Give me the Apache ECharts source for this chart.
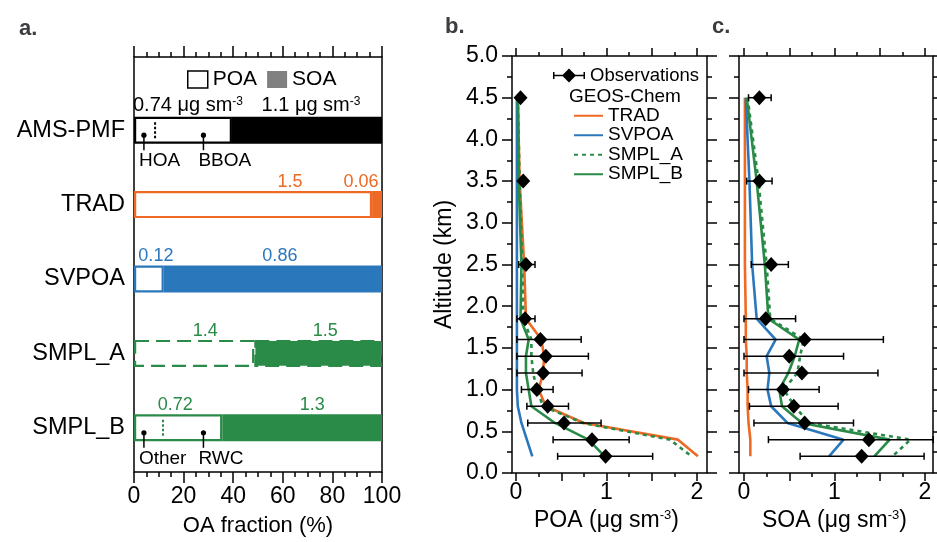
<!DOCTYPE html>
<html>
<head>
<meta charset="utf-8">
<script src="https://cdn.jsdelivr.net/npm/echarts@6/dist/echarts.min.js"></script>
<style>
  html, body { margin: 0; padding: 0; background: #fff; }
  #chart { width: 937px; height: 542px; }
</style>
</head>
<body>
<div id="chart"></div>
<script>
const fontFamily = 'Liberation Sans, Arial, Helvetica, sans-serif'
const orange = '#ee6a24'
const blue = '#2b77bc'
const green = '#2a8a47'

// ---- panel a: OA fraction per run
const runs = ['AMS-PMF', 'TRAD', 'SVPOA', 'SMPL_A', 'SMPL_B']
const poaPct = [39.5, 96, 12, 48.5, 35.6]
const soaPct = [60.5, 4, 88, 51.5, 64.4]
const poaMass = ['0.74', '1.5', '0.12', '1.4', '0.72']
const soaMass = ['1.1', '0.06', '0.86', '1.5', '1.3']
// dotted split lines and source markers inside the POA part
const splitPct = [8.5, 11.7]
const splitRuns = ['AMS-PMF', 'SMPL_B']
const markPct = [4, 28, 4, 28]
const markRuns = ['AMS-PMF', 'AMS-PMF', 'SMPL_B', 'SMPL_B']
const markNames = ['HOA', 'BBOA', 'Other', 'RWC']

// ---- panels b, c: vertical profiles
const altKm = [4.5, 3.5, 2.5, 1.85, 1.6, 1.4, 1.2, 1.0, 0.8, 0.6, 0.4, 0.2]
const modelNames = ['TRAD', 'SVPOA', 'SMPL_A', 'SMPL_B']

const poaObs = [0.05, 0.08, 0.11, 0.10, 0.27, 0.33, 0.30, 0.23, 0.35, 0.53, 0.84, 0.99]
const poaObsLo = [0.045, 0.06, 0.03, 0.01, 0.01, 0.01, 0.01, 0.06, 0.12, 0.13, 0.41, 0.46]
const poaObsHi = [0.055, 0.10, 0.21, 0.21, 0.72, 0.80, 0.73, 0.41, 0.58, 0.94, 1.25, 1.51]
const poaTrad = [0.02, 0.04, 0.09, 0.11, 0.28, 0.31, 0.30, 0.25, 0.33, 0.75, 1.79, 2.01]
const poaSvpoa = [0.01, 0.01, 0.01, 0.01, 0.01, 0.01, 0.01, 0.01, 0.02, 0.06, 0.12, 0.18]
const poaSmplA = [0.02, 0.04, 0.07, 0.08, 0.17, 0.17, 0.19, 0.23, 0.30, 0.74, 1.70, 1.94]
const poaSmplB = [0.02, 0.03, 0.06, 0.05, 0.14, 0.11, 0.11, 0.14, 0.17, 0.43, 0.80, 0.98]

const soaObs = [0.17, 0.17, 0.30, 0.24, 0.67, 0.50, 0.64, 0.43, 0.55, 0.67, 1.38, 1.30]
const soaObsLo = [0.05, 0.03, 0.08, 0.00, 0.00, 0.00, 0.00, 0.05, 0.06, 0.11, 0.27, 0.62]
const soaObsHi = [0.30, 0.31, 0.49, 0.57, 1.54, 1.10, 1.48, 0.83, 1.04, 1.21, 2.09, 1.99]
const soaTrad = [0.01, 0.01, 0.01, 0.02, 0.02, 0.03, 0.03, 0.04, 0.04, 0.05, 0.07, 0.07]
const soaSvpoa = [0.02, 0.06, 0.09, 0.14, 0.35, 0.25, 0.28, 0.26, 0.30, 0.48, 1.10, 0.94]
const soaSmplA = [0.04, 0.16, 0.25, 0.29, 0.66, 0.62, 0.59, 0.44, 0.56, 0.72, 1.84, 1.64]
const soaSmplB = [0.03, 0.14, 0.23, 0.27, 0.61, 0.56, 0.49, 0.39, 0.42, 0.64, 1.61, 1.44]

const runColors = ['#000000', orange, blue, green, green]
const modelLine = [
    { color: orange, type: 'solid' },
    { color: blue, type: 'solid' },
    { color: green, type: [4, 4] },
    { color: green, type: 'solid' },
]

const black = { color: '#000', width: 1.5 }

const tickAxis = (o) => Object.assign({
    type: 'value',
    axisLine: { show: false },
    splitLine: { show: false },
    axisTick: { show: true, length: 8, lineStyle: black },
    minorTick: { show: true, splitNumber: 2, length: 4, lineStyle: black },
    axisLabel: { show: false },
}, o)

const hiddenAxis = (o) => Object.assign({ type: 'value', show: false }, o)

const sup = { s: { fontSize: 13, verticalAlign: 'top', fontFamily: fontFamily } }

// observations: error bars drawn through the axes
const errorSeries = (lo, hi, xIdx, yIdx) => ({
    type: 'custom',
    name: 'obsErr' + xIdx,
    xAxisIndex: xIdx,
    yAxisIndex: yIdx,
    clip: false,
    z: 8,
    data: altKm.map((a, i) => [lo[i], hi[i], a]),
    encode: { x: [0, 1], y: 2 },
    renderItem: (params, api) => {
        const y = api.value(2)
        const p1 = api.coord([api.value(0), y])
        const p2 = api.coord([api.value(1), y])
        const st = { stroke: '#000', lineWidth: 1.5 }
        return {
            type: 'group',
            children: [
                { type: 'line', shape: { x1: p1[0], y1: p1[1], x2: p2[0], y2: p2[1] }, style: st },
                { type: 'line', shape: { x1: p1[0], y1: p1[1] - 3.5, x2: p1[0], y2: p1[1] + 3.5 }, style: st },
                { type: 'line', shape: { x1: p2[0], y1: p2[1] - 3.5, x2: p2[0], y2: p2[1] + 3.5 }, style: st },
            ]
        }
    }
})

const profileSeries = (models, obs, lo, hi, xIdx, yIdx) => {
    const lines = models.map((vals, k) => ({
        type: 'line',
        name: modelNames[k],
        xAxisIndex: xIdx,
        yAxisIndex: yIdx,
        symbol: 'none',
        clip: false,
        z: 3 + k * 0.1,
        lineStyle: { width: 2.6, color: modelLine[k].color, type: modelLine[k].type },
        itemStyle: { color: modelLine[k].color },
        data: altKm.map((a, i) => [vals[i], a])
    }))
    return lines.concat([
        errorSeries(lo, hi, xIdx, yIdx),
        {
            type: 'scatter',
            name: 'Observations',
            xAxisIndex: xIdx,
            yAxisIndex: yIdx,
            symbol: 'diamond',
            symbolSize: [14, 15],
            clip: false,
            z: 9,
            itemStyle: { color: '#000', opacity: 1 },
            data: altKm.map((a, i) => [obs[i], a])
        }
    ])
}

// horizontal shifts of the mass labels relative to each bar part
const poaShift = [5, 37, 7, 11, -3]
const soaShift = [4, -16, 7, 7, 10]

const barLabel = (i, mass, shift) => ({
    show: true,
    position: 'top',
    distance: i === 0 ? 1 : 0,
    offset: [shift, 0],
    color: runColors[i],
    fontSize: i === 0 ? 20 : 18,
    fontFamily: fontFamily,
    formatter: i === 0 ? mass + ' \u03bcg sm{s|-3}' : mass,
    rich: { s: { fontSize: 12, verticalAlign: 'top', fontFamily: fontFamily, color: runColors[i] } }
})

const chartInstance = echarts.init(document.getElementById('chart'), null, { renderer: 'canvas' })

const option = {
    animation: false,
    backgroundColor: '#fff',
    textStyle: { fontFamily: fontFamily, color: '#000' },
    title: [
        { text: 'a.', left: 14, top: 13, textStyle: { fontSize: 22, fontWeight: 'bold', fontFamily: fontFamily } },
        { text: 'b.', left: 440, top: 11, textStyle: { fontSize: 22, fontWeight: 'bold', fontFamily: fontFamily } },
        { text: 'c.', left: 707, top: 11, textStyle: { fontSize: 22, fontWeight: 'bold', fontFamily: fontFamily } },
    ],
    grid: [
        { left: 134, top: 57, width: 248, height: 415, show: true, borderColor: '#000', borderWidth: 1.5 },
        { left: 134, top: 93, width: 248, height: 372 },
        { left: 512, top: 56, width: 195, height: 417, show: true, borderColor: '#000', borderWidth: 1.5 },
        { left: 516, top: 56, width: 181, height: 417 },
        { left: 739, top: 56, width: 194, height: 417, show: true, borderColor: '#000', borderWidth: 1.5 },
        { left: 744, top: 56, width: 181, height: 417 },
    ],
    legend: [
        {
            left: 182, top: 64, itemWidth: 20, itemHeight: 17, itemGap: 10, selectedMode: false,
            textStyle: { fontSize: 21, fontFamily: fontFamily, color: '#000' },
            data: [
                { name: 'POA', icon: 'rect', itemStyle: { color: '#fff', borderColor: '#000', borderWidth: 1.5 } },
                { name: 'SOA', icon: 'rect', itemStyle: { color: '#808080', borderWidth: 0 } },
            ]
        },
        {
            left: 548, top: 61, itemWidth: 32, itemHeight: 14, selectedMode: false,
            textStyle: { fontSize: 18.5, fontFamily: fontFamily, color: '#000' },
            data: [{
                name: 'Observations',
                icon: 'path://M0,3.5L1.5,3.5L1.5,10.5L0,10.5Z M1.5,6.25L30.5,6.25L30.5,7.75L1.5,7.75Z M30.5,3.5L32,3.5L32,10.5L30.5,10.5Z M16,0L23,7L16,14L9,7Z'
            }]
        },
        {
            left: 568, top: 101, orient: 'vertical', itemWidth: 29, itemHeight: 10, itemGap: 0, selectedMode: false,
            itemStyle: { opacity: 0 },
            textStyle: { fontSize: 19, fontFamily: fontFamily, color: '#000', lineHeight: 19.5 },
            data: modelNames
        },
    ],
    graphic: [
        { type: 'text', left: 569, top: 87, style: { text: 'GEOS-Chem', fontSize: 19, fontFamily: fontFamily, fill: '#000' } }
    ],
    xAxis: [
        tickAxis({
            gridIndex: 0, position: 'bottom', min: 0, max: 100, interval: 20,
            axisTick: { show: true, length: 11, lineStyle: black },
            minorTick: { show: true, splitNumber: 4, length: 5, lineStyle: black },
            axisLabel: { show: true, fontSize: 23, margin: 13, color: '#000', fontFamily: fontFamily },
            name: 'OA fraction (%)', nameLocation: 'middle', nameGap: 43,
            nameTextStyle: { fontSize: 22, color: '#000', fontFamily: fontFamily }
        }),
        tickAxis({
            gridIndex: 0, position: 'top', min: 0, max: 100, interval: 20,
            axisTick: { show: true, length: 11, lineStyle: black },
            minorTick: { show: true, splitNumber: 4, length: 5, lineStyle: black }
        }),
        hiddenAxis({ gridIndex: 1, min: 0, max: 100 }),
        hiddenAxis({ gridIndex: 2, min: 0, max: 1 }),
        tickAxis({
            gridIndex: 3, position: 'bottom', min: 0, max: 2, interval: 0.5,
            axisLabel: {
                show: true, fontSize: 23, margin: 8, color: '#000', fontFamily: fontFamily,
                formatter: (v) => (Math.abs(v - Math.round(v)) < 1e-6 ? String(Math.round(v)) : '')
            },
            name: 'POA (\u03bcg sm{s|-3})', nameLocation: 'middle', nameGap: 35,
            nameTextStyle: { fontSize: 23, color: '#000', fontFamily: fontFamily, rich: sup }
        }),
        tickAxis({ gridIndex: 3, position: 'top', min: 0, max: 2, interval: 0.5 }),
        hiddenAxis({ gridIndex: 4, min: 0, max: 1 }),
        tickAxis({
            gridIndex: 5, position: 'bottom', min: 0, max: 2, interval: 0.5,
            axisLabel: {
                show: true, fontSize: 23, margin: 8, color: '#000', fontFamily: fontFamily,
                formatter: (v) => (Math.abs(v - Math.round(v)) < 1e-6 ? String(Math.round(v)) : '')
            },
            name: 'SOA (\u03bcg sm{s|-3})', nameLocation: 'middle', nameGap: 35,
            nameTextStyle: { fontSize: 23, color: '#000', fontFamily: fontFamily, rich: sup }
        }),
        tickAxis({ gridIndex: 5, position: 'top', min: 0, max: 2, interval: 0.5 }),
    ],
    yAxis: [
        hiddenAxis({ gridIndex: 0, min: 0, max: 1 }),
        {
            type: 'category', gridIndex: 1, data: runs, inverse: true,
            axisLine: { show: false }, axisTick: { show: false },
            axisLabel: { fontSize: 23.5, margin: 9, color: '#000', fontFamily: fontFamily }
        },
        tickAxis({
            gridIndex: 2, position: 'left', min: 0, max: 5, interval: 0.5,
            axisTick: { show: true, length: 10, lineStyle: black },
            minorTick: { show: true, splitNumber: 2, length: 5, lineStyle: black },
            axisLabel: { show: true, fontSize: 23, margin: 14, color: '#000', fontFamily: fontFamily, formatter: (v) => v.toFixed(1) },
            name: 'Altitude (km)', nameLocation: 'middle', nameGap: 56, nameRotate: 90,
            nameTextStyle: { fontSize: 23, color: '#000', fontFamily: fontFamily }
        }),
        tickAxis({
            gridIndex: 2, position: 'right', min: 0, max: 5, interval: 0.5,
            axisTick: { show: true, length: 10, lineStyle: black },
            minorTick: { show: true, splitNumber: 2, length: 5, lineStyle: black }
        }),
        hiddenAxis({ gridIndex: 3, min: 0, max: 5 }),
        tickAxis({
            gridIndex: 4, position: 'left', min: 0, max: 5, interval: 0.5,
            axisTick: { show: true, length: 10, lineStyle: black },
            minorTick: { show: true, splitNumber: 2, length: 5, lineStyle: black }
        }),
        tickAxis({
            gridIndex: 4, position: 'right', min: 0, max: 5, interval: 0.5,
            axisTick: { show: true, length: 10, lineStyle: black },
            minorTick: { show: true, splitNumber: 2, length: 5, lineStyle: black }
        }),
        hiddenAxis({ gridIndex: 5, min: 0, max: 5 }),
    ],
    series: [
        {
            type: 'bar', name: 'POA', xAxisIndex: 2, yAxisIndex: 1, stack: 'oa', barWidth: 27, z: 2,
            itemStyle: { color: '#fff', borderColor: '#000', borderWidth: 1.5 },
            data: poaPct.map((v, i) => ({
                value: v,
                itemStyle: { color: '#fff', borderColor: runColors[i], borderWidth: 2.2, borderType: i === 3 ? [14, 7] : 'solid' },
                label: barLabel(i, poaMass[i], poaShift[i])
            }))
        },
        {
            type: 'bar', name: 'SOA', xAxisIndex: 2, yAxisIndex: 1, stack: 'oa', barWidth: 27, z: 2,
            itemStyle: { color: '#808080' },
            data: soaPct.map((v, i) => ({
                value: v,
                itemStyle: { color: runColors[i], borderColor: runColors[i], borderWidth: 2.2, borderType: i === 3 ? [14, 7] : 'solid' },
                label: barLabel(i, soaMass[i], soaShift[i])
            }))
        },
        {
            type: 'custom', name: 'splits', xAxisIndex: 2, yAxisIndex: 1, z: 5, silent: true,
            data: splitPct.map((v, i) => [v, splitRuns[i]]),
            renderItem: (params, api) => {
                const c = api.coord([api.value(0), api.value(1)])
                return {
                    type: 'line',
                    shape: { x1: c[0], y1: c[1] - 8, x2: c[0], y2: c[1] + 9 },
                    style: { stroke: runColors[runs.indexOf(splitRuns[params.dataIndex])], lineWidth: 2, lineDash: [2.5, 2] }
                }
            }
        },
        {
            type: 'custom', name: 'marks', xAxisIndex: 2, yAxisIndex: 1, z: 5, silent: true,
            data: markPct.map((v, i) => [v, markRuns[i]]),
            renderItem: (params, api) => {
                const c = api.coord([api.value(0), api.value(1)])
                return {
                    type: 'group',
                    children: [
                        { type: 'circle', shape: { cx: c[0], cy: c[1] + 5, r: 2.6 }, style: { fill: '#000' } },
                        { type: 'line', shape: { x1: c[0], y1: c[1] + 5, x2: c[0], y2: c[1] + 20 }, style: { stroke: '#000', lineWidth: 1.5 } },
                        {
                            type: 'text', x: c[0] - 5, y: c[1] + 21,
                            style: { text: markNames[params.dataIndex], fontSize: 19, fontFamily: fontFamily, fill: '#000', textVerticalAlign: 'top' }
                        }
                    ]
                }
            }
        },
        ...profileSeries([poaTrad, poaSvpoa, poaSmplA, poaSmplB], poaObs, poaObsLo, poaObsHi, 4, 4),
        ...profileSeries([soaTrad, soaSvpoa, soaSmplA, soaSmplB], soaObs, soaObsLo, soaObsHi, 7, 7),
    ]
}

chartInstance.setOption(option)
</script>
</body>
</html>
